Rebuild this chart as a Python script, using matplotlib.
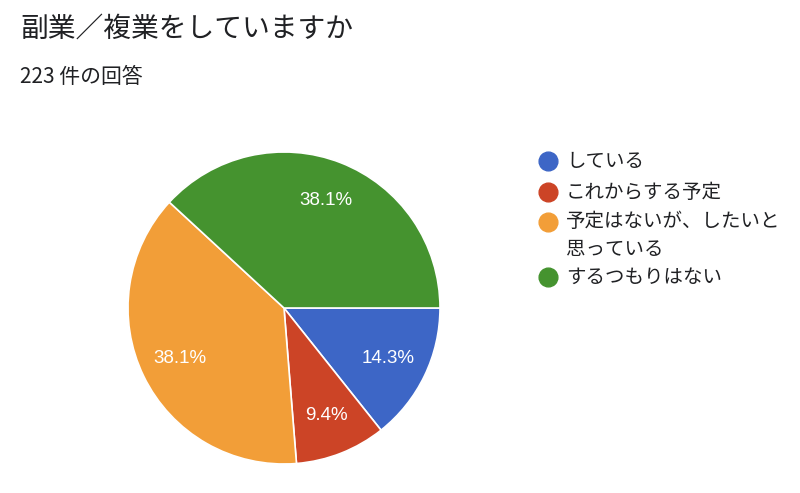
import matplotlib
matplotlib.use("Agg")
import matplotlib.pyplot as plt

plt.rcParams['font.family'] = ['Noto Sans CJK JP', 'DejaVu Sans']

title = "副業／複業をしていますか"
subtitle = "223 件の回答"
labels = ["している", "これからする予定", "予定はないが、したいと\n思っている", "するつもりはない"]
shares = [14.3, 9.4, 38.1, 38.1]
colors = ["#3d66c6", "#cc4426", "#f29e38", "#45932f"]

W, H = 800, 493
fig = plt.figure(figsize=(W / 100, H / 100), dpi=100)

# pie placed in pixel units: center (284, 308), radius 156
cx, cy, r = 284, 308, 156
ax = fig.add_axes([(cx - r) / W, (H - cy - r) / H, 2 * r / W, 2 * r / H])
wedges, texts, autotexts = ax.pie(
    shares, colors=colors, startangle=0, counterclock=False,
    autopct="%.1f%%", pctdistance=0.74,
    wedgeprops=dict(edgecolor="white", linewidth=1.2),
    textprops=dict(color="white", fontsize=13.5, family=["Liberation Sans", "DejaVu Sans"]))
ax.set_xlim(-1, 1)
ax.set_ylim(-1, 1)
ax.set_aspect("equal")

fig.text(20 / W, 1 - 29 / H, title, fontsize=20, color="#202124", va="center", ha="left")
fig.text(20 / W, 1 - 77 / H, subtitle, fontsize=15, color="#202124", va="center", ha="left")

# legend
rows_y = [161, 192, 222, 277]
for y, lab, col in zip(rows_y, labels, colors):
    fig.lines.append(plt.Line2D([548 / W], [1 - y / H], marker="o", markersize=13.5,
                                linestyle="none", color=col, transform=fig.transFigure))
    if "\n" in lab:
        fig.text(566 / W, 1 - (y - 11) / H, lab, fontsize=14, color="#202124",
                 va="top", ha="left", linespacing=1.42)
    else:
        fig.text(566 / W, 1 - y / H, lab, fontsize=14, color="#202124",
                 va="center", ha="left")

fig.savefig("out.png", dpi=100)
